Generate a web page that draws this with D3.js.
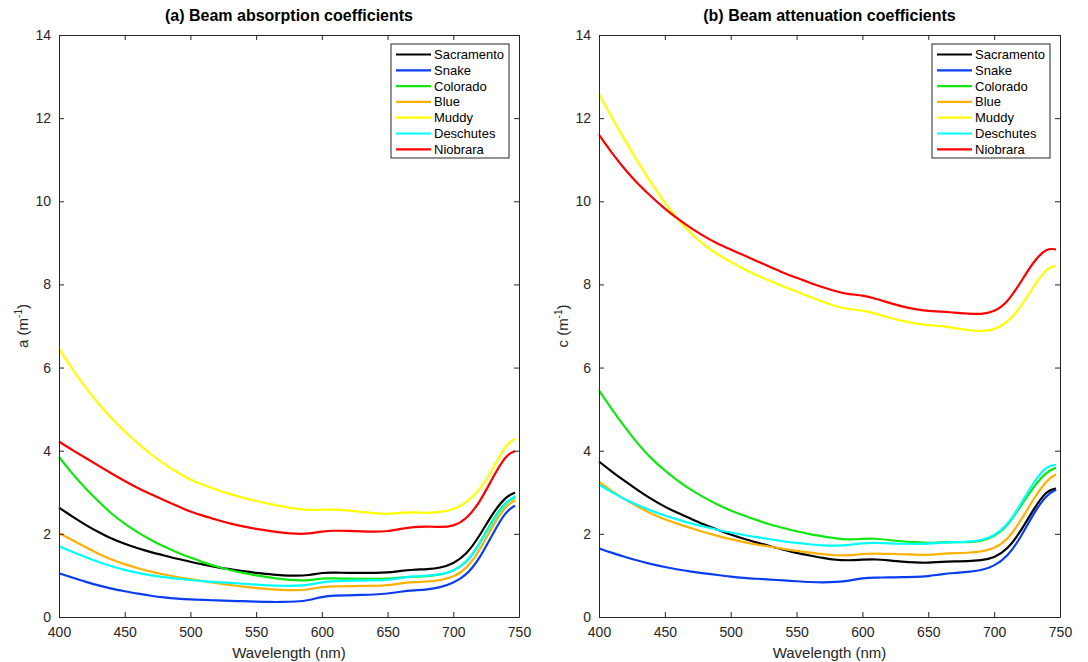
<!DOCTYPE html>
<html>
<head>
<meta charset="utf-8">
<script src="https://cdn.jsdelivr.net/npm/d3@7"></script>
<style>
  body { margin: 0; background: #fff; }
  text { font-family: "Liberation Sans", Arial, Helvetica, sans-serif; fill: #262626; }
</style>
</head>
<body>
<script>
// wavelengths (nm) shared by all spectra
var wl = [400,410,420,430,440,450,460,470,480,490,500,510,520,530,540,550,560,570,580,590,
          600,610,620,630,640,650,660,670,680,690,700,710,720,730,740,747];

var rivers = ["Sacramento","Snake","Colorado","Blue","Muddy","Deschutes","Niobrara"];
var colors = ["#000000","#0a3cf0","#10e810","#ffb000","#ffff00","#00ffff","#ff0000"];

// (a) absorption a (m^-1)
var absSacramento = [2.63,2.42,2.22,2.04,1.88,1.76,1.65,1.56,1.48,1.40,1.33,1.26,1.20,1.15,1.10,1.06,1.03,1.00,0.99,1.00,
                     1.07,1.07,1.06,1.06,1.06,1.07,1.11,1.14,1.15,1.18,1.28,1.50,1.95,2.50,2.90,2.99];
var absSnake      = [1.05,0.95,0.85,0.76,0.68,0.62,0.56,0.51,0.47,0.44,0.42,0.41,0.40,0.39,0.38,0.37,0.36,0.36,0.37,0.40,
                     0.49,0.52,0.52,0.53,0.54,0.56,0.61,0.64,0.66,0.71,0.82,1.00,1.40,2.00,2.55,2.68];
var absColorado   = [3.85,3.45,3.10,2.78,2.48,2.24,2.03,1.85,1.69,1.55,1.43,1.31,1.21,1.13,1.06,1.00,0.95,0.91,0.88,0.88,
                     0.93,0.93,0.92,0.92,0.92,0.92,0.95,0.97,0.98,1.02,1.10,1.30,1.75,2.35,2.78,2.87];
var absBlue       = [2.02,1.85,1.68,1.52,1.38,1.27,1.17,1.09,1.02,0.96,0.91,0.86,0.81,0.77,0.73,0.70,0.67,0.65,0.64,0.66,
                     0.73,0.74,0.74,0.75,0.75,0.76,0.81,0.84,0.85,0.88,0.96,1.15,1.60,2.20,2.68,2.81];
var absMuddy      = [6.45,5.97,5.53,5.13,4.77,4.46,4.17,3.91,3.68,3.48,3.30,3.17,3.06,2.96,2.87,2.79,2.72,2.66,2.60,2.57,
                     2.58,2.59,2.56,2.53,2.50,2.47,2.51,2.52,2.50,2.52,2.58,2.75,3.05,3.55,4.15,4.29];
var absDeschutes  = [1.70,1.57,1.44,1.32,1.22,1.13,1.06,1.00,0.96,0.92,0.89,0.86,0.84,0.82,0.80,0.78,0.76,0.75,0.75,0.77,
                     0.84,0.87,0.87,0.88,0.88,0.89,0.94,0.98,0.99,1.02,1.10,1.30,1.75,2.30,2.76,2.91];
var absNiobrara   = [4.22,4.02,3.83,3.64,3.45,3.27,3.10,2.95,2.81,2.67,2.53,2.43,2.34,2.25,2.18,2.12,2.07,2.03,2.00,2.00,
                     2.06,2.08,2.07,2.06,2.05,2.06,2.12,2.17,2.18,2.16,2.18,2.35,2.75,3.35,3.90,3.99];

// (b) attenuation c (m^-1)
var attSacramento = [3.74,3.49,3.26,3.04,2.83,2.65,2.50,2.36,2.22,2.10,1.98,1.88,1.79,1.70,1.62,1.54,1.48,1.42,1.37,1.36,
                     1.38,1.39,1.36,1.33,1.31,1.30,1.33,1.34,1.34,1.36,1.42,1.62,2.05,2.60,3.05,3.09];
var attSnake      = [1.65,1.54,1.44,1.35,1.27,1.20,1.14,1.09,1.05,1.01,0.97,0.94,0.92,0.90,0.88,0.86,0.84,0.83,0.84,0.87,
                     0.94,0.95,0.95,0.96,0.96,0.98,1.03,1.06,1.08,1.12,1.22,1.45,1.90,2.50,2.95,3.06];
var attColorado   = [5.45,4.98,4.55,4.14,3.80,3.52,3.27,3.05,2.87,2.70,2.56,2.44,2.33,2.22,2.14,2.06,1.99,1.94,1.89,1.86,
                     1.88,1.89,1.85,1.82,1.80,1.78,1.80,1.80,1.80,1.82,1.93,2.18,2.66,3.14,3.50,3.59];
var attBlue       = [3.25,3.02,2.82,2.64,2.48,2.35,2.24,2.13,2.04,1.95,1.87,1.80,1.74,1.69,1.64,1.59,1.55,1.51,1.48,1.48,
                     1.52,1.53,1.52,1.51,1.50,1.49,1.52,1.54,1.54,1.57,1.64,1.85,2.30,2.85,3.30,3.43];
var attMuddy      = [12.58,12.00,11.45,10.92,10.42,9.96,9.56,9.22,8.94,8.72,8.54,8.37,8.22,8.08,7.95,7.83,7.70,7.58,7.47,7.40,
                     7.38,7.30,7.20,7.12,7.06,7.02,7.00,6.95,6.90,6.87,6.90,7.08,7.44,7.96,8.40,8.45];
var attDeschutes  = [3.18,3.00,2.82,2.68,2.55,2.44,2.34,2.25,2.17,2.10,2.03,1.97,1.92,1.87,1.82,1.78,1.75,1.72,1.71,1.73,
                     1.78,1.79,1.77,1.76,1.76,1.76,1.79,1.80,1.81,1.84,1.95,2.20,2.70,3.25,3.64,3.66];
var attNiobrara   = [11.60,11.15,10.75,10.40,10.10,9.82,9.57,9.35,9.15,8.98,8.84,8.70,8.56,8.42,8.28,8.16,8.04,7.93,7.83,7.76,
                     7.74,7.66,7.56,7.47,7.40,7.36,7.35,7.32,7.30,7.28,7.34,7.56,8.04,8.56,8.88,8.84];

var xTicks = [400,450,500,550,600,650,700,750];
var yTicks = [0,2,4,6,8,10,12,14];

var panels = [
  { left: 59, right: 519, title: "(a) Beam absorption coefficients", ylab: "a",
    series: [absSacramento,absSnake,absColorado,absBlue,absMuddy,absDeschutes,absNiobrara] },
  { left: 599, right: 1060, title: "(b) Beam attenuation coefficients", ylab: "c",
    series: [attSacramento,attSnake,attColorado,attBlue,attMuddy,attDeschutes,attNiobrara] }
];
var plotTop = 35, plotBottom = 617;

var svg = d3.select("body").append("svg")
  .attr("width", 1088)
  .attr("height", 662);

panels.forEach(function(p) {
  var x = d3.scaleLinear().domain([400, 750]).range([p.left, p.right]);
  var y = d3.scaleLinear().domain([0, 14]).range([plotBottom, plotTop]);
  var g = svg.append("g");

  // curves
  var line = d3.line()
    .x(function(d, i) { return x(wl[i]); })
    .y(function(d) { return y(d); })
    .curve(d3.curveBasis);

  p.series.forEach(function(s, k) {
    g.append("path")
      .attr("d", line(s))
      .style("fill", "none")
      .style("stroke", colors[k])
      .style("stroke-width", 2.2)
      .style("stroke-linejoin", "round");
  });

  // axes, ticks inward on all four sides
  var axB = d3.axisBottom(x).tickValues(xTicks).tickSizeInner(-5).tickSizeOuter(0).tickPadding(10);
  var axT = d3.axisTop(x).tickValues(xTicks).tickSizeInner(-5).tickSizeOuter(0).tickFormat("");
  var axL = d3.axisLeft(y).tickValues(yTicks).tickSizeInner(-5).tickSizeOuter(0).tickPadding(8);
  var axR = d3.axisRight(y).tickValues(yTicks).tickSizeInner(-5).tickSizeOuter(0).tickFormat("");

  [[axB, "translate(0," + plotBottom + ")"], [axT, "translate(0," + plotTop + ")"],
   [axL, "translate(" + p.left + ",0)"], [axR, "translate(" + p.right + ",0)"]].forEach(function(a) {
    var ag = g.append("g").attr("transform", a[1]).call(a[0]);
    ag.selectAll("path, line").style("stroke", "#262626").style("stroke-width", 1);
    ag.selectAll("text").style("font-size", "14px").style("fill", "#262626")
      .style("font-family", '"Liberation Sans", Arial, sans-serif');
  });

  // title and labels
  g.append("text")
    .attr("x", (p.left + p.right) / 2).attr("y", 21)
    .attr("text-anchor", "middle")
    .style("font-size", "16px").style("font-weight", "bold").style("fill", "#000")
    .text(p.title);

  g.append("text")
    .attr("x", (p.left + p.right) / 2).attr("y", 658)
    .attr("text-anchor", "middle")
    .style("font-size", "15px")
    .text("Wavelength (nm)");

  var yl = g.append("text")
    .attr("transform", "translate(" + (p.left - 31) + "," + ((plotTop + plotBottom) / 2) + ") rotate(-90)")
    .attr("text-anchor", "middle")
    .style("font-size", "15px");
  yl.append("tspan").text(p.ylab + " (m");
  yl.append("tspan").attr("dy", -6).style("font-size", "10px").text("-1");
  yl.append("tspan").attr("dy", 6).text(")");

  // legend
  var lw = 118, lh = 114;
  var lx = p.right - 10 - lw, ly = 44;
  var lg = g.append("g").attr("transform", "translate(" + lx + "," + ly + ")");
  lg.append("rect")
    .attr("width", lw).attr("height", lh)
    .style("fill", "#fff").style("stroke", "#262626").style("stroke-width", 1);
  rivers.forEach(function(r, k) {
    var ry = 10.5 + k * 15.8;
    lg.append("line")
      .attr("x1", 5).attr("x2", 40).attr("y1", ry).attr("y2", ry)
      .style("stroke", colors[k]).style("stroke-width", 2.2);
    lg.append("text")
      .attr("x", 43).attr("y", ry + 4.5)
      .style("font-size", "13px").style("fill", "#000")
      .text(r);
  });
});
</script>
</body>
</html>
